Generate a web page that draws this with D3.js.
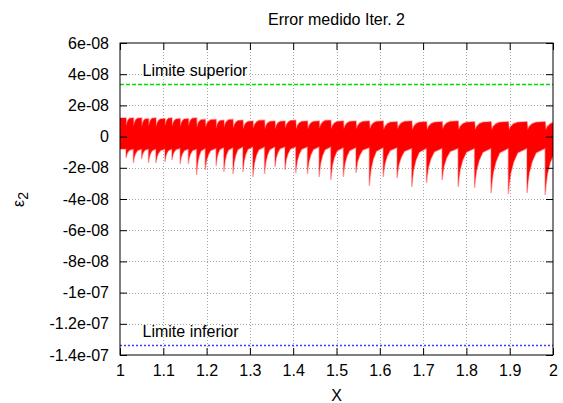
<!DOCTYPE html>
<html>
<head>
<meta charset="utf-8">
<script src="https://cdn.jsdelivr.net/npm/d3@7"></script>
<style>
  body { margin: 0; background: #fff; }
  text { font-family: "Liberation Sans", Arial, sans-serif; font-size: 16px; fill: #000; }
</style>
</head>
<body>
<div id="chart"></div>
<script>
// Error medido - gnuplot style chart

// Axis ticks and labels
var xTicks = [1, 1.1, 1.2, 1.3, 1.4, 1.5, 1.6, 1.7, 1.8, 1.9, 2];
var xTickLabels = ["1", "1.1", "1.2", "1.3", "1.4", "1.5", "1.6", "1.7", "1.8", "1.9", "2"];
var yTicks = [6e-8, 4e-8, 2e-8, 0, -2e-8, -4e-8, -6e-8, -8e-8, -1e-7, -1.2e-7, -1.4e-7];
var yTickLabels = ["6e-08", "4e-08", "2e-08", "0", "-2e-08", "-4e-08", "-6e-08", "-8e-08", "-1e-07", "-1.2e-07", "-1.4e-07"];

// Limits
var limitNames = ["Limite superior", "Limite inferior"];
var limitValues = [3.38e-8, -1.338e-7];

// Measured error: position of each sharp dip (x) and its depth (units of 1e-8)
var dipX = [1.014, 1.031, 1.050, 1.066, 1.083, 1.104, 1.120, 1.139, 1.158, 1.177,
            1.197, 1.222, 1.240, 1.261, 1.284, 1.307, 1.334, 1.358, 1.381, 1.406,
            1.433, 1.460, 1.487, 1.516, 1.545, 1.576, 1.608, 1.640, 1.674, 1.708,
            1.744, 1.781, 1.819, 1.857, 1.897, 1.940, 1.982];
var dipValue = [-1.37, -1.69, -1.44, -1.69, -1.69, -1.63, -1.50, -1.76, -1.76, -2.46,
                -2.14, -1.88, -2.27, -2.40, -2.27, -2.59, -2.40, -1.95, -2.14, -2.33,
                -2.40, -2.59, -2.78, -2.59, -2.33, -3.17, -2.59, -2.65, -3.23, -2.97,
                -2.78, -3.23, -3.29, -3.62, -3.68, -3.62, -3.74];
// Upper and lower edge of the noisy band after each dip (units of 1e-8)
var bandTop = [1.2, 1.2, 1.15, 1.2, 1.15, 1.2, 1.15, 1.15, 1.2, 1.1,
               1.1, 1.05, 1.1, 1.05, 1.0, 1.05, 1.0, 1.0, 1.05, 1.0,
               1.0, 1.05, 1.0, 1.0, 1.0, 1.0, 0.95, 1.0, 0.95, 0.95,
               1.0, 0.95, 0.95, 0.95, 0.95, 0.95, 0.95];
var bandLow = [-0.8, -0.8, -0.8, -0.8, -0.8, -0.8, -0.75, -0.8, -0.8, -0.75,
               -0.75, -0.7, -0.7, -0.65, -0.65, -0.65, -0.65, -0.65, -0.65, -0.65,
               -0.65, -0.65, -0.7, -0.7, -0.7, -0.7, -0.7, -0.75, -0.75, -0.75,
               -0.75, -0.75, -0.75, -0.75, -0.75, -0.75, -0.75];
// Recovery shape after a dip, read from the widest cycles
var recoverAt = [0, 0.04, 0.12, 0.28, 0.5, 1.0];
var recoverLow = [1, 0.8, 0.55, 0.3, 0.1, 0];
var recoverTop = [0, 1, 0.6, 0.25, 0.05, 0];

var width = 563;
var height = 403;
var plotLeft = 120, plotRight = 553, plotTop = 43, plotBottom = 355;

var svg = d3.select("#chart")
  .append("svg")
  .attr("width", width)
  .attr("height", height);

var x = d3.scaleLinear().domain([1, 2]).range([plotLeft, plotRight]);
var y = d3.scaleLinear().domain([-1.4e-7, 6e-8]).range([plotBottom, plotTop]);

// Grid
var grid = svg.append("g").attr("class", "grid");
grid.selectAll("line.gx")
  .data(xTicks.slice(1, -1))
  .enter().append("line")
  .attr("class", "gx")
  .attr("x1", function(d) { return Math.round(x(d)) + 0.5; })
  .attr("x2", function(d) { return Math.round(x(d)) + 0.5; })
  .attr("y1", plotTop)
  .attr("y2", plotBottom);
grid.selectAll("line.gy")
  .data(yTicks.slice(1, -1))
  .enter().append("line")
  .attr("class", "gy")
  .attr("x1", plotLeft)
  .attr("x2", plotRight)
  .attr("y1", function(d) { return Math.round(y(d)) + 0.5; })
  .attr("y2", function(d) { return Math.round(y(d)) + 0.5; });
grid.selectAll("line")
  .attr("stroke", "#a8a8a8")
  .attr("stroke-width", 1)
  .attr("stroke-dasharray", "1,2");

// Build the band outline from the dip table
var band = [];
band.push({ x: 1, hi: bandTop[0] * 1e-8, lo: bandLow[0] * 1e-8 });
dipX.forEach(function(dx, i) {
  var prevTop = i > 0 ? bandTop[i - 1] : bandTop[0];
  var prevLow = i > 0 ? bandLow[i - 1] : bandLow[0];
  var w = i < dipX.length - 1 ? dipX[i + 1] - dx : dx - dipX[i - 1];
  band.push({ x: dx, hi: prevTop * 1e-8, lo: prevLow * 1e-8 });
  recoverAt.forEach(function(f, k) {
    band.push({
      x: dx + f * w,
      hi: (bandTop[i] - 0.5 * recoverTop[k]) * 1e-8,
      lo: (bandLow[i] + (dipValue[i] - bandLow[i]) * recoverLow[k]) * 1e-8
    });
  });
});

svg.append("clipPath")
  .attr("id", "plotClip")
  .append("rect")
  .attr("x", plotLeft)
  .attr("y", plotTop)
  .attr("width", plotRight - plotLeft)
  .attr("height", plotBottom - plotTop);

var area = d3.area()
  .x(function(d) { return x(d.x); })
  .y0(function(d) { return y(d.lo); })
  .y1(function(d) { return y(d.hi); });

svg.append("path")
  .datum(band)
  .attr("clip-path", "url(#plotClip)")
  .attr("d", area)
  .attr("fill", "#ff0000")
  .attr("stroke", "rgba(255,40,40,0.4)")
  .attr("stroke-width", 1.5);

// Limit lines
var limitColors = ["#00dd00", "#3a3aff"];
var limitDash = ["4,2", "2,2"];
limitValues.forEach(function(v, i) {
  var ly = Math.round(y(v)) + 0.5;
  svg.append("line")
    .attr("x1", plotLeft)
    .attr("x2", plotRight)
    .attr("y1", ly)
    .attr("y2", ly)
    .attr("stroke", limitColors[i])
    .attr("stroke-width", 1.3)
    .attr("stroke-dasharray", limitDash[i]);
  svg.append("text")
    .attr("x", x(1.052))
    .attr("y", y(v) - 8)
    .text(limitNames[i]);
});

// Axes with inward ticks on all four sides
var xAxis = d3.axisBottom(x)
  .tickValues(xTicks)
  .tickFormat(function(d, i) { return xTickLabels[i]; })
  .tickSizeInner(-7)
  .tickSizeOuter(0)
  .tickPadding(10);
var yAxis = d3.axisLeft(y)
  .tickValues(yTicks)
  .tickFormat(function(d, i) { return yTickLabels[i]; })
  .tickSizeInner(-7)
  .tickSizeOuter(0)
  .tickPadding(11);

svg.append("g")
  .attr("class", "xAxis")
  .attr("transform", "translate(0," + plotBottom + ")")
  .call(xAxis);
svg.append("g")
  .attr("class", "yAxis")
  .attr("transform", "translate(" + plotLeft + ",0)")
  .call(yAxis);
svg.append("g")
  .attr("transform", "translate(0," + plotTop + ")")
  .call(d3.axisTop(x).tickValues(xTicks).tickFormat("").tickSizeInner(-7).tickSizeOuter(0));
svg.append("g")
  .attr("transform", "translate(" + plotRight + ",0)")
  .call(d3.axisRight(y).tickValues(yTicks).tickFormat("").tickSizeInner(-7).tickSizeOuter(0));

svg.selectAll(".domain").remove();
svg.selectAll(".tick line").attr("stroke", "#000");
svg.selectAll(".tick text")
  .attr("font-family", "'Liberation Sans', Arial, sans-serif")
  .attr("font-size", 16)
  .attr("fill", "#000");

// Border
svg.append("rect")
  .attr("x", plotLeft)
  .attr("y", plotTop)
  .attr("width", plotRight - plotLeft)
  .attr("height", plotBottom - plotTop)
  .attr("fill", "none")
  .attr("stroke", "#000")
  .attr("stroke-width", 1);

// Title and axis labels
svg.append("text")
  .attr("x", (plotLeft + plotRight) / 2)
  .attr("y", 25)
  .attr("text-anchor", "middle")
  .text("Error medido Iter. 2");

svg.append("text")
  .attr("x", (plotLeft + plotRight) / 2)
  .attr("y", 401)
  .attr("text-anchor", "middle")
  .text("X");

var yLabel = svg.append("text")
  .attr("transform", "translate(24,207) rotate(-90)");
yLabel.append("tspan").text("ε");
yLabel.append("tspan")
  .attr("dy", 4)
  .attr("font-size", 14)
  .text("2");
</script>
</body>
</html>
